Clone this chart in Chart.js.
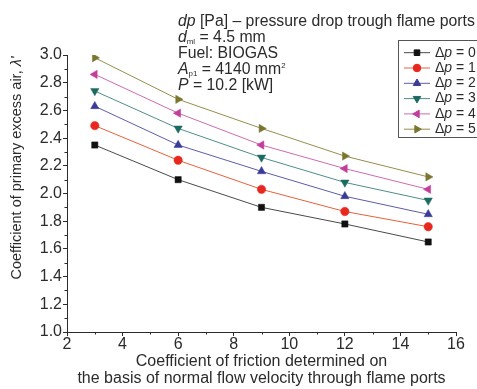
<!DOCTYPE html>
<html>
<head>
<meta charset="utf-8">
<script src="https://cdn.jsdelivr.net/npm/chart.js@4"></script>
<style>
  html, body { margin: 0; padding: 0; background: #fff; }
  #wrap { width: 477px; height: 389px; }
</style>
</head>
<body>
<div id="wrap"><canvas id="chart"></canvas></div>
<script>
// friction coefficient (x) and primary excess air for each pressure drop
const friction = [3, 6, 9, 12, 15];
const dp0 = [2.35, 2.10, 1.90, 1.78, 1.65];
const dp1 = [2.49, 2.24, 2.03, 1.87, 1.76];
const dp2 = [2.63, 2.35, 2.16, 1.98, 1.85];
const dp3 = [2.74, 2.47, 2.26, 2.08, 1.95];
const dp4 = [2.86, 2.58, 2.35, 2.18, 2.03];
const dp5 = [2.98, 2.68, 2.47, 2.27, 2.12];
const seriesNames = ['0', '1', '2', '3', '4', '5'];

const xTicks = [2, 4, 6, 8, 10, 12, 14, 16];
const yTicks = [1.0, 1.2, 1.4, 1.6, 1.8, 2.0, 2.2, 2.4, 2.6, 2.8, 3.0];

const FONT = '"Liberation Sans", Arial, sans-serif';
const INK = '#2b2b2b';

const styles = [
  { color: '#111111', line: '#4a4a4a', point: 'rect', rot: 0, r: 4.4 },
  { color: '#e8281e', line: '#e8603a', point: 'circle', rot: 0, r: 4.2 },
  { color: '#3a3a98', line: '#5c5cab', point: 'triangle', rot: 0, r: 4.8 },
  { color: '#1c6a60', line: '#4d8f86', point: 'triangle', rot: 180, r: 4.8 },
  { color: '#c23e9a', line: '#cf6aae', point: 'triangle', rot: 270, r: 4.8 },
  { color: '#7a7630', line: '#958f4c', point: 'triangle', rot: 90, r: 4.8 }
];

const allSeries = [dp0, dp1, dp2, dp3, dp4, dp5];
const datasets = allSeries.map((vals, i) => ({
  label: 'Δp = ' + seriesNames[i],
  data: friction.map((x, j) => ({ x: x, y: vals[j] })),
  borderColor: styles[i].line,
  backgroundColor: styles[i].color,
  pointBorderColor: styles[i].color,
  pointBackgroundColor: styles[i].color,
  borderWidth: 1,
  pointStyle: styles[i].point,
  pointRotation: styles[i].rot,
  pointRadius: styles[i].r,
  pointBorderWidth: 0.5,
  tension: 0
}));

// draws a run of text pieces: [text, italic?, shift(px), scale]
function drawRuns(ctx, x, y, runs, size) {
  let cx = x;
  runs.forEach(r => {
    const s = size * (r[3] || 1);
    ctx.font = (r[1] ? 'italic ' : '') + s + 'px ' + FONT;
    ctx.fillText(r[0], cx, y + (r[2] || 0));
    cx += ctx.measureText(r[0]).width;
  });
  return cx;
}

const extras = {
  id: 'extras',
  afterDraw(chart) {
    const ctx = chart.ctx;
    const xs = chart.scales.x, ys = chart.scales.y;
    ctx.save();

    // minor ticks
    ctx.strokeStyle = INK;
    ctx.lineWidth = 1;
    ctx.beginPath();
    for (let v = 3; v < 16; v += 2) {
      const px = Math.round(xs.getPixelForValue(v)) + 0.5;
      ctx.moveTo(px, ys.bottom);
      ctx.lineTo(px, ys.bottom + 2.5);
    }
    for (let k = 0; k < 10; k++) {
      const v = 1.1 + k * 0.2;
      const py = Math.round(ys.getPixelForValue(v)) + 0.5;
      ctx.moveTo(xs.left, py);
      ctx.lineTo(xs.left - 2.5, py);
    }
    ctx.stroke();

    // y axis title
    ctx.fillStyle = INK;
    ctx.textBaseline = 'middle';
    ctx.save();
    ctx.translate(17, 168);
    ctx.rotate(-Math.PI / 2);
    ctx.font = '14.5px ' + FONT;
    const t1 = 'Coefficient of primary excess air, ';
    const w1 = ctx.measureText(t1).width;
    ctx.font = 'italic 14.5px ' + FONT;
    const w2 = ctx.measureText("λ'").width;
    drawRuns(ctx, -(w1 + w2) / 2, 0, [[t1, false], ["λ'", true]], 14.5);
    ctx.restore();

    // notes block
    ctx.textAlign = 'left';
    const nx = 178, size = 15.8;
    drawRuns(ctx, nx, 22, [['dp', true], [' [Pa] – pressure drop trough flame ports', false]], size);
    drawRuns(ctx, nx, 38, [['d', true], ['ml', false, 4, 0.5], [' = 4.5 mm', false]], size);
    drawRuns(ctx, nx, 54, [['Fuel: BIOGAS', false]], size);
    drawRuns(ctx, nx, 70, [['A', true], ['p1', false, 4, 0.5], [' = 4140 mm', false], ['2', false, -4, 0.5]], size);
    drawRuns(ctx, nx, 86, [['P', true], [' = 10.2 [kW]', false]], size);

    // legend box
    const lx = 398, ly = 40, lh = 15.3;
    ctx.strokeStyle = '#555';
    ctx.lineWidth = 1;
    ctx.strokeRect(lx + 0.5, ly + 0.5, 90, 97);
    chart.data.datasets.forEach((ds, i) => {
      const cy = ly + 12.7 + i * lh;
      ctx.strokeStyle = ds.borderColor;
      ctx.beginPath();
      ctx.moveTo(404, cy);
      ctx.lineTo(430, cy);
      ctx.stroke();
      ctx.fillStyle = ds.pointBackgroundColor;
      ctx.strokeStyle = ds.pointBorderColor;
      Chart.helpers.drawPoint(ctx, {
        pointStyle: ds.pointStyle, rotation: ds.pointRotation,
        radius: ds.pointRadius * 0.9, borderWidth: 0.5
      }, 417, cy);
      ctx.fillStyle = INK;
      drawRuns(ctx, 435, cy, [['Δ', false], ['p', true], [' = ' + seriesNames[i], false]], 14);
    });
    ctx.restore();
  }
};

new Chart(document.getElementById('chart'), {
  type: 'line',
  data: { datasets: datasets },
  options: {
    responsive: true,
    maintainAspectRatio: false,
    animation: false,
    layout: { padding: { top: 55, right: 21, left: 0, bottom: 0 } },
    plugins: { legend: { display: false }, tooltip: { enabled: false } },
    scales: {
      x: {
        type: 'linear',
        min: 2, max: 16,
        afterFit(s) { s.height = 57; },
        afterBuildTicks(s) { s.ticks = xTicks.map(v => ({ value: v })); },
        grid: { drawOnChartArea: false, drawTicks: true, tickLength: 4, color: INK },
        border: { display: true, color: INK, width: 1 },
        ticks: { color: INK, padding: -1, maxRotation: 0, font: { family: FONT, size: 16 } },
        title: {
          display: true,
          text: ['Coefficient of friction determined on', 'the basis of normal flow velocity through flame ports'],
          color: INK,
          font: { family: FONT, size: 16, lineHeight: 1.12 },
          padding: { top: 0, bottom: 1 }
        }
      },
      y: {
        type: 'linear',
        min: 1.0, max: 3.0,
        afterFit(s) { s.width = 67; },
        afterBuildTicks(s) { s.ticks = yTicks.map(v => ({ value: v })); },
        grid: { drawOnChartArea: false, drawTicks: true, tickLength: 4, color: INK },
        border: { display: true, color: INK, width: 1 },
        ticks: {
          color: INK, padding: 1,
          font: { family: FONT, size: 16 },
          callback: v => Number(v).toFixed(1)
        }
      }
    }
  },
  plugins: [extras]
});
</script>
</body>
</html>
